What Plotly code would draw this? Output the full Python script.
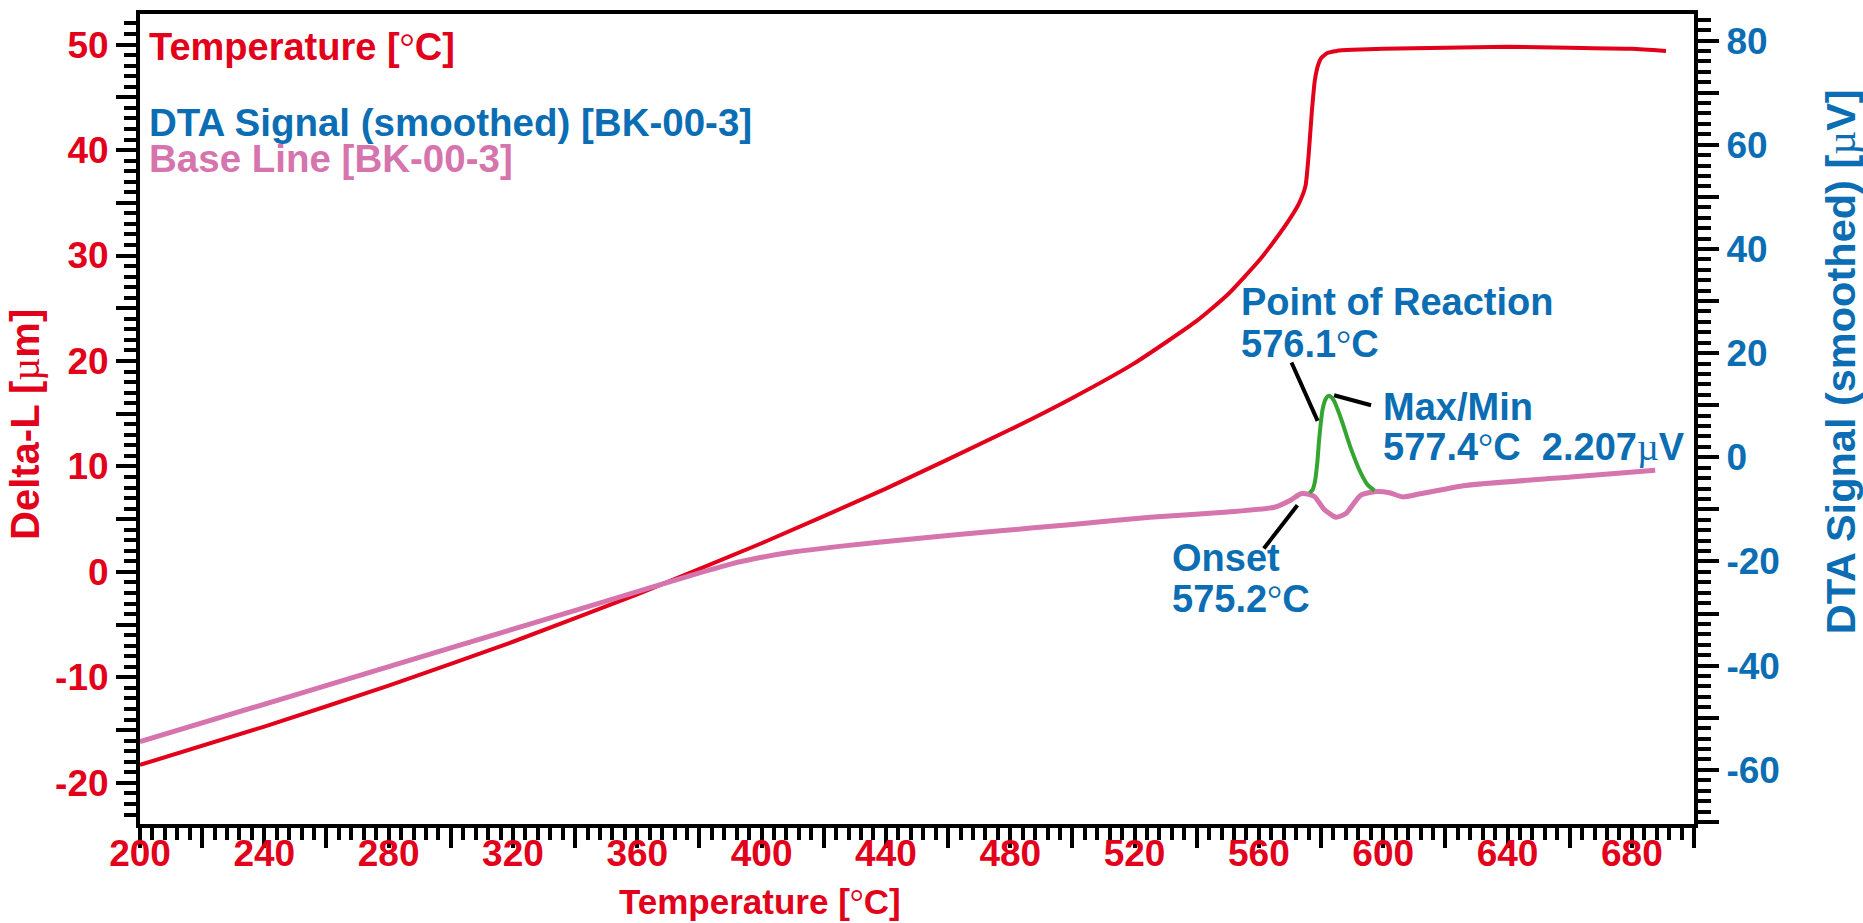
import plotly.graph_objects as go

# ---- dilatometer curve (left axis, Delta-L in µm) ----
temp_dl = [200, 240, 280, 320, 360, 400, 440, 480, 500, 520, 540, 550, 560, 565,
           570, 573, 575, 576, 577, 578, 579, 580, 582, 585, 590, 600, 620, 640,
           660, 680, 691]
delta_l = [-18.3, -14.66, -10.78, -6.62, -2.12, 2.72, 7.9, 13.5, 16.5, 19.8, 23.8,
           26.3, 29.5, 31.4, 33.5, 35.0, 36.6, 39.5, 43.5, 46.6, 48.0, 48.7, 49.2,
           49.4, 49.5, 49.6, 49.7, 49.8, 49.7, 49.6, 49.4]

# ---- DTA base line (right axis, µV) ----
temp_base = [200, 250, 300, 350, 380, 390, 400, 410, 425, 450, 475, 500, 525, 550,
             565, 570, 573.5, 576, 578, 581, 584.8, 588, 592.7, 597.2, 602, 606.2,
             612, 626.5, 660.4, 687.5]
base_uv = [-54.6, -45.6, -36.6, -27.6, -22.2, -20.5, -19.2, -18.2, -17.1, -15.6,
           -14.2, -12.9, -11.5, -10.5, -9.6, -8.3, -7.0, -7.1, -7.6, -10.0, -11.5,
           -10.8, -7.3, -6.6, -6.8, -7.6, -7.0, -5.4, -3.8, -2.5]

# ---- DTA signal peak (right axis, µV) ----
temp_dta = [576.3, 577.2, 578.0, 578.8, 579.4, 580.5, 581.5, 582.3, 583.2, 584.2,
            586.5, 589.3, 592.7, 595.0, 597.2]
dta_uv = [-6.8, -6.3, -4.8, -1.0, 3.5, 9.2, 11.2, 11.8, 11.6, 10.8, 7.3, 2.2,
          -2.9, -5.3, -6.4]

# ---- tick labels ----
x_ticks = list(range(200, 701, 20))
x_labels = [str(v) if v % 40 == 0 else "" for v in x_ticks]
yl_ticks = list(range(-20, 51, 5))
yl_labels = [str(v) if v % 10 == 0 else "" for v in yl_ticks]
yr_ticks = list(range(-70, 81, 10))
yr_labels = [str(v) if v % 20 == 0 else "" for v in yr_ticks]

# ---- callout leader lines: (x0, y0, x1, y1) in temperature / µV ----
callouts = {
    "reaction": (570.5, 18.2, 578.9, 7.0),
    "maxmin": (584.2, 11.9, 596.1, 10.0),
    "onset": (572.4, -9.2, 561.6, -17.5),
}

RED = "#e2001a"
BLUE = "#0b6db3"
PINK = "#d574ad"
GREEN = "#35a532"
FONT = "Liberation Sans, Arial, Helvetica, sans-serif"

# thin symbol-style glyphs for the degree sign and micro sign
SYM = "<span style=\"font-family:'Liberation Serif';font-weight:normal\">{}</span>"
DEG = SYM.format("°")
MU = SYM.format("µ")

W, H = 1863, 923
ML, MR, MT, MB = 140, 169, 10, 99
PW, PH = W - ML - MR, H - MT - MB


def px(x):
    return (x - ML) / PW


def py(y):
    return (H - MB - y) / PH


fig = go.Figure()
fig.add_trace(go.Scatter(x=temp_dl, y=delta_l, mode="lines",
                         line=dict(color=RED, width=4, shape="spline", smoothing=0.5),
                         yaxis="y"))
fig.add_trace(go.Scatter(x=temp_base, y=base_uv, mode="lines",
                         line=dict(color=PINK, width=5, shape="spline", smoothing=0.6),
                         yaxis="y2"))
fig.add_trace(go.Scatter(x=temp_dta, y=dta_uv, mode="lines",
                         line=dict(color=GREEN, width=4, shape="spline", smoothing=0.6),
                         yaxis="y2"))

for x0, y0, x1, y1 in callouts.values():
    fig.add_shape(type="line", xref="x", yref="y2", x0=x0, y0=y0, x1=x1, y1=y1,
                  line=dict(color="black", width=4))

tick_font = dict(family=FONT, size=37, weight="bold")


def label(text, x, y, color, size=38, xref="paper", yref="paper", angle=0,
          xanchor="left"):
    fig.add_annotation(text=text, x=x, y=y, xref=xref, yref=yref, showarrow=False,
                       xanchor=xanchor, yanchor="middle", textangle=angle,
                       font=dict(family=FONT, size=size, color=color, weight="bold"))


# series captions
label(f"Temperature [{DEG}C]", px(147), py(43), RED)
label("DTA Signal (smoothed) [BK-00-3]", px(147), py(119), BLUE, size=38.5)
label("Base Line [BK-00-3]", px(147), py(155), PINK, size=38.5)

# peak annotations
label("Point of Reaction", 553.5, 29.8, BLUE, xref="x", yref="y2")
label(f"576.1{DEG}C", 553.5, 21.8, BLUE, xref="x", yref="y2")
label("Max/Min", 599.3, 9.6, BLUE, xref="x", yref="y2")
label(f"577.4{DEG}C\u00a0\u00a02.207{MU}V", 599.3, 1.9, BLUE, xref="x", yref="y2")
label("Onset", 531.5, -19.3, BLUE, xref="x", yref="y2")
label(f"575.2{DEG}C", 531.5, -27.2, BLUE, xref="x", yref="y2")

# axis titles
label(f"Temperature [{DEG}C]", px(760), py(902), RED, size=35, xanchor="center")
label(f"Delta-L [{MU}m]", px(26), py(422), RED, size=40, angle=-90, xanchor="center")
label(f"DTA Signal (smoothed) [{MU}V]", px(1840), py(360), BLUE, size=41.5,
      angle=-90, xanchor="center")

fig.update_layout(
    width=W, height=H, autosize=False,
    margin=dict(l=ML, r=MR, t=MT, b=MB),
    paper_bgcolor="white", plot_bgcolor="white",
    showlegend=False,
    xaxis=dict(range=[200, 700], tickmode="array", tickvals=x_ticks, ticktext=x_labels,
               ticks="outside", ticklen=20, tickwidth=3.5, tickcolor="black",
               minor=dict(ticks="outside", tick0=200, dtick=4, ticklen=12,
                          tickwidth=3.5, tickcolor="black"),
               ticklabelstandoff=-26,
               showline=True, linewidth=4, linecolor="black", mirror=True,
               showgrid=False, zeroline=False,
               tickfont=dict(color=RED, **tick_font)),
    yaxis=dict(range=[-23.9, 52.9], tickmode="array", tickvals=yl_ticks,
               ticktext=yl_labels, ticks="outside", ticklen=20, tickwidth=3.5,
               tickcolor="black",
               minor=dict(ticks="outside", tick0=0, dtick=1, ticklen=12,
                          tickwidth=3.5, tickcolor="black"),
               showline=True, linewidth=4, linecolor="black",
               showgrid=False, zeroline=False,
               tickfont=dict(color=RED, **tick_font)),
    yaxis2=dict(range=[-70.4, 85.1], overlaying="y", side="right", tickmode="array",
                tickvals=yr_ticks, ticktext=yr_labels, ticks="outside", ticklen=21,
                tickwidth=3.5, tickcolor="black",
                minor=dict(ticks="outside", tick0=0, dtick=2, ticklen=13,
                           tickwidth=3.5, tickcolor="black"),
                showline=True, linewidth=4, linecolor="black",
                showgrid=False, zeroline=False,
                tickfont=dict(color=BLUE, **tick_font)),
)

fig.write_html("out.html")
